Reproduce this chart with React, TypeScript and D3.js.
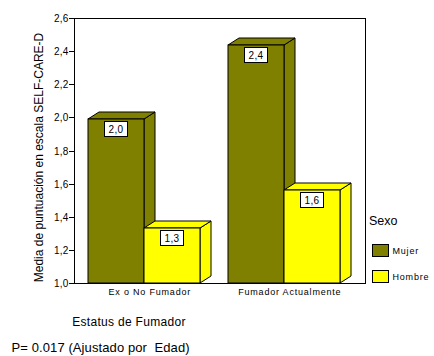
import React from "react";
import * as d3 from "d3";

const categories = ["Ex o No Fumador", "Fumador Actualmente"];
const seriesNames = ["Mujer", "Hombre"];
const seriesColors = ["#808000", "#FFFF00"];
const mujerValues = [1.99, 2.44];
const hombreValues = [1.33, 1.56];
const yTicks = [1.0, 1.2, 1.4, 1.6, 1.8, 2.0, 2.2, 2.4, 2.6];
const yTitle = "Media de puntuación en escala SELF-CARE-D";
const xTitle = "Estatus de Fumador";
const footnote = "P= 0.017 (Ajustado por  Edad)";
const legendTitle = "Sexo";

const W = 434;
const H = 356;
const plot = { left: 74, top: 18, right: 366, bottom: 283 };
const DX = 11;
const DY = 7;
const FONT = "'Liberation Sans', Arial, sans-serif";

const fmt = (v: number) => v.toFixed(1).replace(".", ",");

export default function App() {
  const y = d3.scaleLinear().domain([1.0, 2.6]).range([plot.bottom, plot.top]);
  const x = d3
    .scaleBand<string>()
    .domain(categories)
    .range([74.3, 354.3])
    .paddingInner(0.2)
    .paddingOuter(0.1);
  const groupW = x.bandwidth();
  const barW = groupW / seriesNames.length;
  const seriesValues = [mujerValues, hombreValues];

  const bars: JSX.Element[] = [];
  const labels: JSX.Element[] = [];
  categories.forEach((cat, i) => {
    seriesValues.forEach((vals, j) => {
      const v = vals[i];
      const x0 = Math.round((x(cat) as number) + j * barW);
      const x1 = Math.round((x(cat) as number) + (j + 1) * barW);
      const yT = Math.round(y(v));
      const yB = Math.round(y(1.0));
      const c = seriesColors[j];
      const top = `M${x0},${yT}L${x0 + DX},${yT - DY}L${x1 + DX},${yT - DY}L${x1},${yT}Z`;
      const side = `M${x1},${yT}L${x1 + DX},${yT - DY}L${x1 + DX},${yB - DY}L${x1},${yB}Z`;
      bars.push(
        <g key={`b${i}${j}`}>
          <path d={side} fill={c} stroke="#000" strokeWidth={1} strokeLinejoin="miter" />
          <path d={top} fill={c} stroke="#000" strokeWidth={1} />
          <rect x={x0} y={yT} width={x1 - x0} height={yB - yT} fill={c} stroke="#000" strokeWidth={1} />
        </g>
      );
      const cx = (x0 + x1) / 2 - 1;
      labels.push(
        <g key={`l${i}${j}`}>
          <rect x={Math.round(cx - 11.5) + 0.5} y={yT + 2.5} width={23} height={15} fill="#fff" stroke="#000" strokeWidth={1} />
          <text x={cx + 1} y={yT + 14} textAnchor="middle" fontSize={10} fontFamily={FONT} letterSpacing={0.3} fill="#000">
            {fmt(v)}
          </text>
        </g>
      );
    });
  });

  return (
    <svg width={W} height={H} style={{ position: "absolute", left: 0, top: 0, background: "#fff" }}>
      <rect x={0} y={0} width={W} height={H} fill="#fff" />
      {/* frame */}
      <rect
        x={plot.left + 0.5}
        y={plot.top + 0.5}
        width={plot.right - plot.left - 1}
        height={plot.bottom - plot.top}
        fill="none"
        stroke="#000"
        strokeWidth={1}
      />
      {/* y ticks */}
      {yTicks.map((t) => (
        <g key={t}>
          <line x1={69} x2={plot.left} y1={Math.round(y(t)) + 0.5} y2={Math.round(y(t)) + 0.5} stroke="#000" />
          <text x={68.5} y={y(t) + 4} textAnchor="end" fontSize={10} fontFamily={FONT} letterSpacing={0.2} fill="#000">
            {fmt(t)}
          </text>
        </g>
      ))}
      {bars}
      {labels}
      {/* x category labels */}
      {categories.map((cat) => (
        <text
          key={cat}
          x={(x(cat) as number) + groupW / 2 + DX / 2}
          y={295}
          textAnchor="middle"
          fontSize={9}
          fontFamily={FONT}
          letterSpacing={0.8}
          fill="#000"
        >
          {cat}
        </text>
      ))}
      {/* y title */}
      <text
        transform={`translate(43,157.5) rotate(-90)`}
        textAnchor="middle"
        fontSize={12}
        fontFamily={FONT}
        fill="#000"
      >
        {yTitle}
      </text>
      {/* x title */}
      <text x={129} y={326} textAnchor="middle" fontSize={12} fontFamily={FONT} letterSpacing={0.3} fill="#000">
        {xTitle}
      </text>
      {/* footnote */}
      <text x={11.5} y={352} fontSize={13} fontFamily={FONT} letterSpacing={0.1} fill="#000" style={{ whiteSpace: "pre" }}>
        {footnote}
      </text>
      {/* legend */}
      <text x={369} y={225} fontSize={12.5} fontFamily={FONT} fill="#000">
        {legendTitle}
      </text>
      {seriesNames.map((s, j) => (
        <g key={s}>
          <rect x={372.5} y={244.5 + j * 26} width={16} height={12} fill={seriesColors[j]} stroke="#000" strokeWidth={1} />
          <text x={392.5} y={254 + j * 26} fontSize={9} fontFamily={FONT} letterSpacing={0.8} fill="#000">
            {s}
          </text>
        </g>
      ))}
    </svg>
  );
}
